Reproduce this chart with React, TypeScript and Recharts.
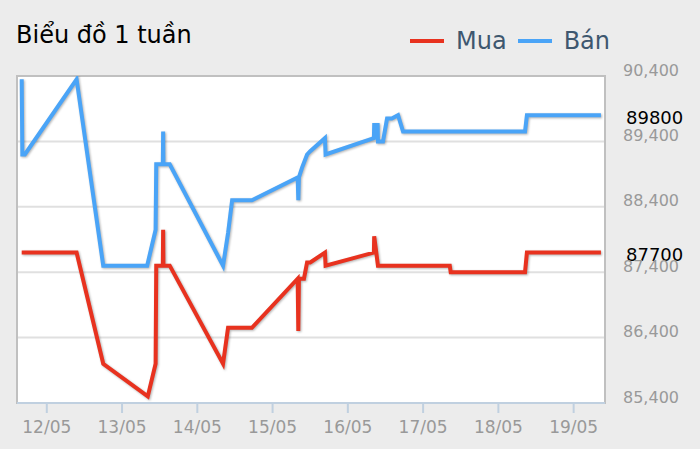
import {
  CartesianGrid,
  Line,
  LineChart,
  ReferenceArea,
  ReferenceLine,
  XAxis,
  YAxis,
} from "recharts";

// hours counted from 12/05 00:00
const DAY_TICKS = [0, 24, 48, 72, 96, 120, 144, 168];
const DAY_LABELS = ["12/05", "13/05", "14/05", "15/05", "16/05", "17/05", "18/05", "19/05"];
const PRICE_TICKS = [85400, 86400, 87400, 88400, 89400, 90400];

const BAN_HOURS = [
  -8, -7.8, -7, 9.5, 18, 32, 34.7, 34.9, 37, 37.1, 37.2, 39.2, 56.2, 57.8, 59.1,
  65.4, 80, 80.2, 80.4, 81.4, 83, 84, 88.7, 88.9, 104.3, 104.4, 105.5, 105.6,
  107.2, 108.5, 110, 112, 113.6, 152.5, 153.1, 176.7,
];
const BAN_VALUES = [
  90350, 89200, 89200, 90350, 87500, 87500, 88050, 89050, 89050, 89550, 89050,
  89050, 87500, 88000, 88500, 88500, 88850, 88500, 88850, 89000, 89200, 89250,
  89450, 89200, 89450, 89650, 89650, 89400, 89400, 89750, 89750, 89800, 89550,
  89550, 89800, 89800,
];

const MUA_HOURS = [
  -8, 9.5, 18, 32.2, 34.7, 34.9, 37, 37.1, 37.2, 39.2, 56.2, 57.8, 65.4, 80,
  80.2, 80.4, 82, 83, 84, 88.7, 88.9, 104.3, 104.4, 105.6, 128.5, 128.8, 152.5,
  153.1, 176.7,
];
const MUA_VALUES = [
  87700, 87700, 86000, 85500, 86000, 87500, 87500, 88050, 87500, 87500, 86000,
  86550, 86550, 87300, 86500, 87300, 87300, 87550, 87550, 87700, 87500, 87700,
  87950, 87500, 87500, 87400, 87400, 87700, 87700,
];

const MUA_COLOR = "#e8321f";
const BAN_COLOR = "#4aa4f7";
const X_DOMAIN = [-9.5, 178];
const Y_DOMAIN = [85400, 90400];

const toRows = (hours: number[], values: number[]) =>
  hours.map((hour, i) => ({ hour, value: values[i] }));

const muaData = toRows(MUA_HOURS, MUA_VALUES);
const banData = toRows(BAN_HOURS, BAN_VALUES);

const PriceTick = ({ x, y, payload }: any) => (
  <text x={x + 10} y={y - 6} dy="0.35em" fill="#999" fontSize={16}>
    {Number(payload.value).toLocaleString("en-US")}
  </text>
);

// black label with the latest value, drawn to the right of the plot
const LastValue = ({ viewBox, value }: any) => (
  <text
    x={viewBox.x + viewBox.width + 21}
    y={viewBox.y + 2}
    dy="0.35em"
    fill="#000"
    fontSize={18}
  >
    {value}
  </text>
);

const LegendItem = ({ color, name }: { color: string; name: string }) => (
  <div style={{ display: "flex", alignItems: "center", marginRight: 11 }}>
    <span style={{ width: 34, height: 4, background: color, marginRight: 12 }} />
    <span>{name}</span>
  </div>
);

export default function App() {
  return (
    <div
      style={{
        position: "relative",
        width: 700,
        height: 449,
        background: "#ececec",
        fontFamily: "'DejaVu Sans', sans-serif",
      }}
    >
      <style>{`body{margin:0} .price-line path{filter:drop-shadow(1px 1px 1px rgba(0,0,0,0.3))}`}</style>
      <div style={{ position: "absolute", left: 16, top: 21, fontSize: 24, lineHeight: "28px", color: "#000" }}>
        Biểu đồ 1 tuần
      </div>
      <div
        style={{
          position: "absolute",
          left: 410,
          top: 27,
          display: "flex",
          fontSize: 24,
          lineHeight: "28px",
          color: "#3e576f",
        }}
      >
        <LegendItem color={MUA_COLOR} name="Mua" />
        <LegendItem color={BAN_COLOR} name="Bán" />
      </div>
      <LineChart width={700} height={449} margin={{ top: 76, right: 0, bottom: 0, left: 17 }}>
        <CartesianGrid vertical={false} stroke="#e0e0e0" strokeWidth={2} fill="#fff" />
        <XAxis
          dataKey="hour"
          type="number"
          domain={X_DOMAIN}
          ticks={DAY_TICKS}
          tickFormatter={(h) => DAY_LABELS[h / 24]}
          allowDataOverflow
          height={46}
          axisLine={{ stroke: "#c0d0e0", strokeWidth: 2 }}
          tickLine={{ stroke: "#c0d0e0", strokeWidth: 2 }}
          tickSize={10}
          tickMargin={8}
          tick={{ fill: "#999", fontSize: 17 }}
        />
        <YAxis
          orientation="right"
          type="number"
          domain={Y_DOMAIN}
          ticks={PRICE_TICKS}
          allowDataOverflow
          width={95}
          axisLine={false}
          tickLine={false}
          tick={<PriceTick />}
        />
        <ReferenceArea
          x1={X_DOMAIN[0]}
          x2={X_DOMAIN[1]}
          y1={Y_DOMAIN[0]}
          y2={Y_DOMAIN[1]}
          fill="none"
          stroke="#c0c0c0"
          strokeWidth={2}
        />
        <Line
          className="price-line"
          data={muaData}
          dataKey="value"
          name="Mua"
          stroke={MUA_COLOR}
          strokeWidth={4}
          dot={false}
          activeDot={false}
          type="linear"
          isAnimationActive={false}
        />
        <Line
          className="price-line"
          data={banData}
          dataKey="value"
          name="Bán"
          stroke={BAN_COLOR}
          strokeWidth={4}
          dot={false}
          activeDot={false}
          type="linear"
          isAnimationActive={false}
        />
        <ReferenceLine
          y={BAN_VALUES[BAN_VALUES.length - 1]}
          stroke="none"
          label={<LastValue value={BAN_VALUES[BAN_VALUES.length - 1]} />}
        />
        <ReferenceLine
          y={MUA_VALUES[MUA_VALUES.length - 1]}
          stroke="none"
          label={<LastValue value={MUA_VALUES[MUA_VALUES.length - 1]} />}
        />
      </LineChart>
    </div>
  );
}
